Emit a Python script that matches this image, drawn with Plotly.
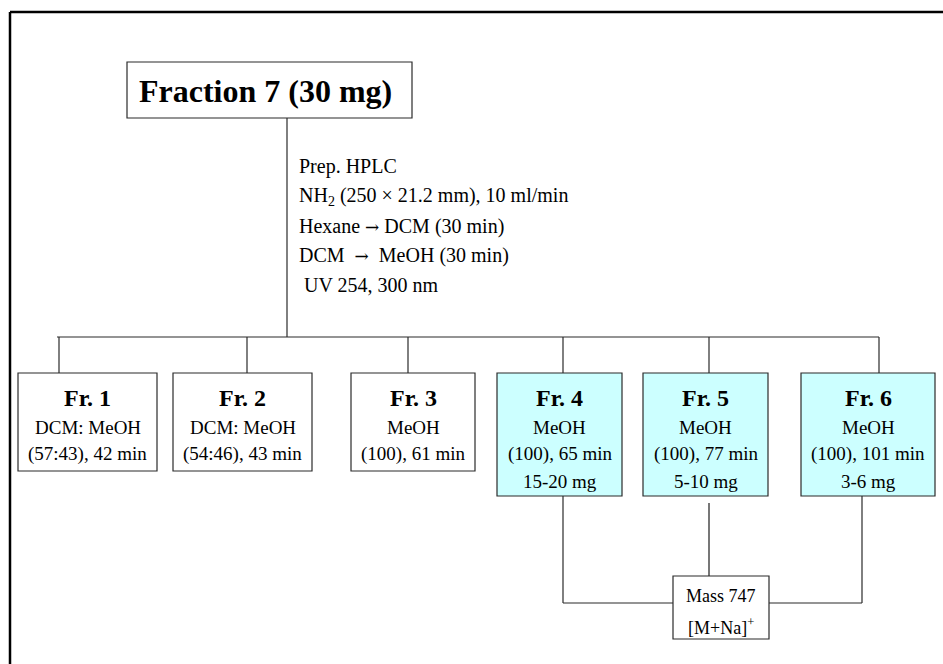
import plotly.graph_objects as go

# ---------------- data ----------------
source_name = "Fraction 7"
source_mass_mg = 30
ARROW = "<span style='font-family:DejaVu Serif;font-size:17px'>→</span>"
hplc_conditions = [
    "Prep. HPLC",
    "NH<sub>2</sub> (250 × 21.2 mm), 10 ml/min",
    "Hexane " + ARROW + " DCM (30 min)",
    "DCM  " + ARROW + "  MeOH (30 min)",
    " UV 254, 300 nm",
]
fraction_labels = ["Fr. 1", "Fr. 2", "Fr. 3", "Fr. 4", "Fr. 5", "Fr. 6"]
solvents = ["DCM: MeOH", "DCM: MeOH", "MeOH", "MeOH", "MeOH", "MeOH"]
ratios = ["(57:43)", "(54:46)", "(100)", "(100)", "(100)", "(100)"]
times_min = [42, 43, 61, 65, 77, 101]
yields = ["", "", "", "15-20 mg", "5-10 mg", "3-6 mg"]
highlighted = [False, False, False, True, True, True]
mass_value = 747
mass_ion = "[M+Na]<sup>+</sup>"

# ---------------- geometry / style ----------------
W, H = 943, 664
FONT = "Liberation Serif, Times New Roman, serif"
LINE = "#2b2b2b"
HIL = "#ccffff"

box_x0 = [18, 173, 351, 497, 643, 801]
box_x1 = [157, 312, 475, 622, 768, 935]
drop_x = [59, 247, 408, 563, 709, 879]
box_top = 373
box_bot_plain = 471
box_bot_hil = 496
bus_y = 337
bus_x0, bus_x1 = 57, 879

src_box = (127, 62, 412, 118)
src_stem_x = 287

mass_box = (673, 576, 769, 639)

shapes = []
ann = []


def line(x0, y0, x1, y1, color=LINE, width=1.2):
    shapes.append(dict(type="line", x0=x0, y0=y0, x1=x1, y1=y1, xref="x", yref="y",
                       line=dict(color=color, width=width)))


def rect(x0, y0, x1, y1, fill="white"):
    shapes.append(dict(type="rect", x0=x0, y0=y0, x1=x1, y1=y1, xref="x", yref="y",
                       line=dict(color=LINE, width=1.2), fillcolor=fill, layer="above"))


def text(x, y, s, size, bold=False, xanchor="center"):
    ann.append(dict(x=x, y=y, xref="x", yref="y", text=("<b>%s</b>" % s) if bold else s,
                    showarrow=False, xanchor=xanchor, yanchor="middle",
                    font=dict(family=FONT, size=size, color="black")))


# outer frame (cropped: only top and left visible)
line(10, 12, W + 5, 12, color="black", width=2.5)
line(10, 12, 10, H + 5, color="black", width=2.5)

# source box
rect(*src_box)
text((src_box[0] + src_box[2]) / 2 - 4, 91, "%s (%d mg)" % (source_name, source_mass_mg), 32, bold=True)
line(src_stem_x, src_box[3], src_stem_x, bus_y)

# HPLC conditions
hplc_y = [166, 196, 226, 255, 285]
for s, y in zip(hplc_conditions, hplc_y):
    text(297, y, s, 20, xanchor="left")

# bus line
line(bus_x0, bus_y, bus_x1, bus_y)

# fraction boxes
for i, lab in enumerate(fraction_labels):
    line(drop_x[i], bus_y, drop_x[i], box_top)
    bot = box_bot_hil if highlighted[i] else box_bot_plain
    rect(box_x0[i], box_top, box_x1[i], bot, fill=HIL if highlighted[i] else "white")
    cx = (box_x0[i] + box_x1[i]) / 2
    text(cx, 398, lab, 24, bold=True)
    text(cx, 427, solvents[i], 19)
    text(cx, 454, "%s, %d min" % (ratios[i], times_min[i]), 19)
    if yields[i]:
        text(cx, 481, yields[i], 19)

# connections to mass box
mx0, my0, mx1, my1 = mass_box
mid_y = 603
line(563, box_bot_hil, 563, mid_y)
line(563, mid_y, mx0, mid_y)
line(709, 503, 709, my0, color="#555555", width=1.6)
line(862, box_bot_hil, 862, mid_y)
line(862, mid_y, mx1, mid_y)
rect(*mass_box)
text((mx0 + mx1) / 2, 596, "Mass %d" % mass_value, 18)
text((mx0 + mx1) / 2, 626, mass_ion, 18)

fig = go.Figure()
fig.update_layout(
    width=W, height=H, autosize=False,
    margin=dict(l=0, r=0, t=0, b=0, pad=0),
    paper_bgcolor="white", plot_bgcolor="white",
    xaxis=dict(range=[0, W], visible=False, fixedrange=True),
    yaxis=dict(range=[H, 0], visible=False, fixedrange=True),
    shapes=shapes, annotations=ann, showlegend=False,
)
fig.write_html(
    "out.html",
    config={"displayModeBar": False},
    post_script="document.body.style.margin='0';document.body.style.padding='0';document.body.style.overflow='hidden';",
)
